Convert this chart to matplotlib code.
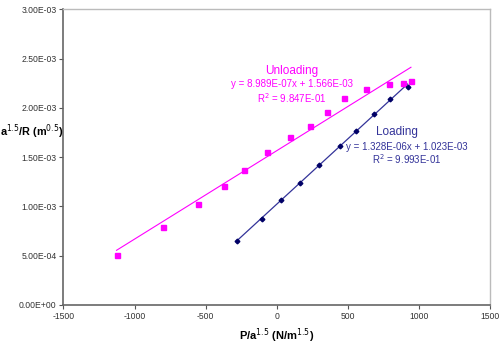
import matplotlib
matplotlib.use("Agg")
import matplotlib.pyplot as plt
import numpy as np

plt.rcParams["font.family"] = ["Liberation Sans", "DejaVu Sans"]

# ---------------------------------------------------------------- data
load_x = [-282, -103, 31, 165, 296, 444, 559, 681, 794, 918]
load_y = [6.49e-4, 8.75e-4, 1.067e-3, 1.236e-3, 1.419e-3,
          1.611e-3, 1.770e-3, 1.942e-3, 2.091e-3, 2.209e-3]

unload_x = [-1127, -798, -553, -373, -234, -68, 89, 232, 352, 470,
            627, 787, 885, 942]
unload_y = [5.10e-4, 7.94e-4, 1.024e-3, 1.206e-3, 1.371e-3, 1.547e-3,
            1.703e-3, 1.820e-3, 1.962e-3, 2.098e-3, 2.189e-3, 2.243e-3,
            2.253e-3, 2.276e-3]

load_fit = (1.328e-06, 1.023e-03)
unload_fit = (8.989e-07, 1.566e-03)

x_ticks = [-1500, -1000, -500, 0, 500, 1000, 1500]
y_ticks = [0, 5e-4, 1e-3, 1.5e-3, 2e-3, 2.5e-3, 3e-3]

load_col = "#000066"
load_line = "#333399"
unload_col = "#FF00FF"

# ---------------------------------------------------------------- figure
fig = plt.figure(figsize=(5.01, 3.45), dpi=100)
ax = fig.add_axes([0.1267, 0.1168, 0.852, 0.8557])

# trendlines
xl = np.array([min(load_x), max(load_x)])
ax.plot(xl, load_fit[0] * xl + load_fit[1], color=load_line, lw=0.9)
xu = np.array([min(unload_x), max(unload_x)])
ax.plot(xu, unload_fit[0] * xu + unload_fit[1], color=unload_col, lw=0.8)

ax.plot(unload_x, unload_y, "s", color=unload_col, ms=3.6, mec=unload_col)
ax.plot(load_x, load_y, "D", color=load_col, ms=2.4, mec=load_col)

# annotations
ax.text(103, 2.375e-3, "Unloading", color=unload_col, fontsize=8.5,
        ha="center", va="center")
ax.text(103, 2.24e-3, "y = 8.989E-07x + 1.566E-03", color=unload_col,
        fontsize=7, ha="center", va="center")
ax.text(103, 2.104e-3, "R$^2$ = 9.847E-01", color=unload_col,
        fontsize=7, ha="center", va="center")

ax.text(841, 1.756e-3, "Loading", color=load_line, fontsize=8.5,
        ha="center", va="center")
ax.text(911, 1.604e-3, "y = 1.328E-06x + 1.023E-03", color=load_line,
        fontsize=7, ha="center", va="center")
ax.text(911, 1.476e-3, "R$^2$ = 9.993E-01", color=load_line,
        fontsize=7, ha="center", va="center")

# axes styling
ax.set_xlim(-1500, 1500)
ax.set_ylim(0, 3e-3)
ax.set_xticks(x_ticks)
ax.set_yticks(y_ticks)
ax.set_xticklabels([str(t) for t in x_ticks])
ax.set_yticklabels([f"{t:.2E}" for t in y_ticks])
ax.tick_params(labelsize=6.2, length=3, width=0.8, color="#555555",
               labelcolor="#333333", pad=2)
for side in ["left", "bottom"]:
    ax.spines[side].set_color("#666666")
    ax.spines[side].set_linewidth(1.2)
for side in ["top", "right"]:
    ax.spines[side].set_color("#bbbbbb")
    ax.spines[side].set_linewidth(1.0)

ax.set_xlabel("P/a$^{1.5}$ (N/m$^{1.5}$)", fontsize=8, fontweight="bold",
              labelpad=4)
fig.text(32 / 501, 1 - 132 / 345, "a$^{1.5}$/R (m$^{0.5}$)", fontsize=7.8,
         fontweight="bold", ha="center", va="center")

fig.savefig("out.png", dpi=100)
